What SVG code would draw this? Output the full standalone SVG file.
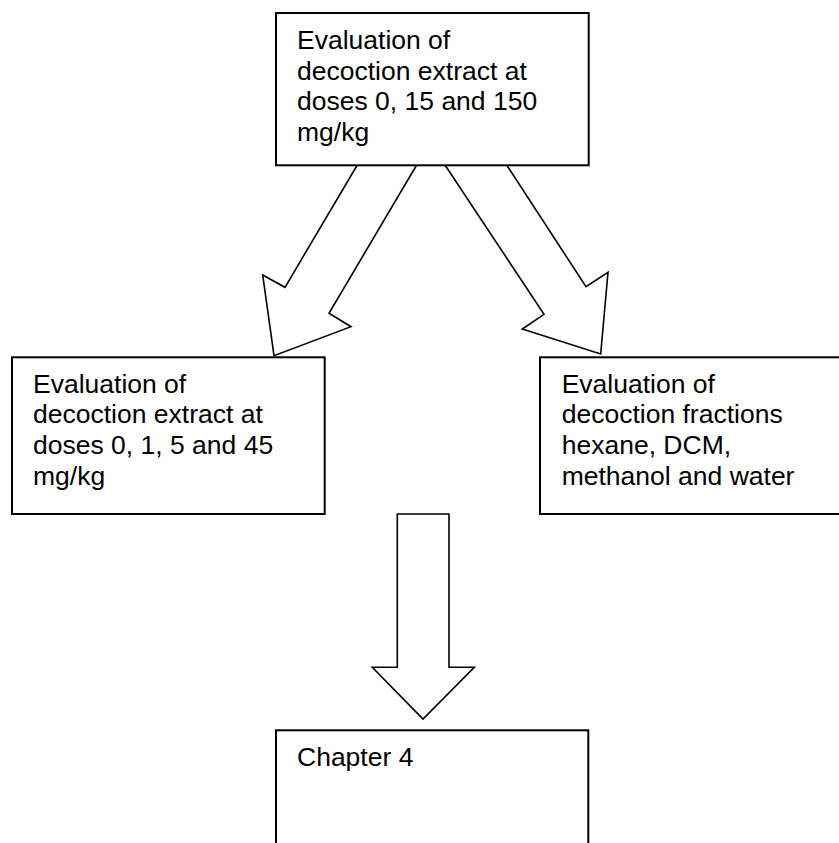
<svg xmlns="http://www.w3.org/2000/svg" width="839" height="843" viewBox="0 0 839 843">
  <style>
    .box { fill: #ffffff; stroke: #000000; stroke-width: 2; }
    .arrow { fill: #ffffff; stroke: #000000; stroke-width: 1.6; stroke-linejoin: miter; }
    .label { font-family: "Liberation Sans", Arial, sans-serif; font-size: 26.5px; fill: #000000; }
  </style>
  <rect x="0" y="0" width="839" height="843" fill="#ffffff"/>

  <!-- block arrows between the boxes -->
  <g id="connectors">
    <polygon class="arrow" points="357.3,165 285,287.3 262.7,275 274,355.7 351,326.7 329,313.3 416.7,165"/>
    <polygon class="arrow" points="445,165 544,314.3 522.3,329 600.7,354 608,272.3 586,286.7 506.7,165"/>
    <polygon class="arrow" points="397.3,514 397.3,667.3 372.3,667.3 423,719 474.3,667.3 449,667.3 449,514"/>
  </g>

  <g id="node-extract-high">
    <rect class="box" x="276" y="13" width="312.7" height="152.3"/>
    <text class="label" x="297" y="49">Evaluation of</text>
    <text class="label" x="297" y="79.5">decoction extract at</text>
    <text class="label" x="297" y="110">doses 0, 15 and 150</text>
    <text class="label" x="297" y="140.5">mg/kg</text>
  </g>

  <g id="node-extract-low">
    <rect class="box" x="12" y="357.3" width="312.7" height="156.7"/>
    <text class="label" x="33" y="392.7">Evaluation of</text>
    <text class="label" x="33" y="423.3">decoction extract at</text>
    <text class="label" x="33" y="454">doses 0, 1, 5 and 45</text>
    <text class="label" x="33" y="484.7">mg/kg</text>
  </g>

  <g id="node-fractions">
    <rect class="box" x="540" y="357.3" width="320" height="156.7"/>
    <text class="label" x="561.7" y="392.7">Evaluation of</text>
    <text class="label" x="561.7" y="423.3">decoction fractions</text>
    <text class="label" x="561.7" y="454">hexane, DCM,</text>
    <text class="label" x="561.7" y="484.7">methanol and water</text>
  </g>

  <g id="node-chapter4">
    <rect class="box" x="276" y="730.3" width="312.3" height="130"/>
    <text class="label" x="297" y="766">Chapter 4</text>
  </g>
</svg>
